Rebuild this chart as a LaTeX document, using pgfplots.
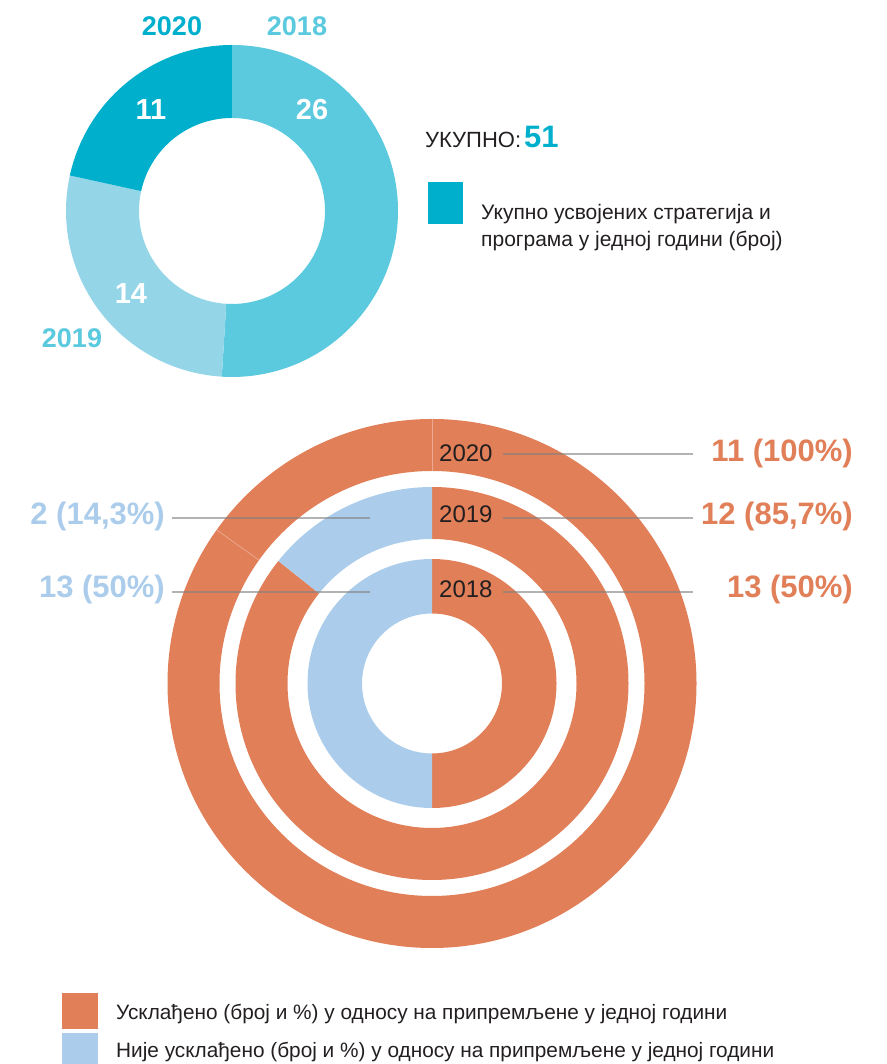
\documentclass[border=0pt]{standalone}
\usepackage{fontspec}
\setmainfont{Liberation Sans}
\usepackage{pgfplots}
\pgfplotsset{compat=1.18}
\usetikzlibrary{calc}
\definecolor{c18}{HTML}{5BC9DE}
\definecolor{c19}{HTML}{94D5E8}
\definecolor{c20}{HTML}{00AFCC}
\definecolor{orng}{HTML}{E07F58}
\definecolor{lblue}{HTML}{ABCDEB}
\definecolor{txt}{HTML}{231F20}
% ring segment: cx cy rin rout startangle endangle colour
\newcommand\seg[7]{\fill[#7] ($(axis cs:#1,#2)+(#5:#4pt)$) arc[start angle=#5,end angle=#6,radius=#4pt] -- ($(axis cs:#1,#2)+(#6:#3pt)$) arc[start angle=#6,end angle=#5,radius=#3pt] -- cycle;}
% data: adopted strategies per year
\def\tA{26}\def\tB{14}\def\tC{11}
% data: aligned / total per year
\def\alA{13}\def\toA{26}
\def\alB{12}\def\toB{14}
\def\alC{11}\def\toC{11}
\begin{document}
\begin{tikzpicture}
\pgfmathsetmacro\tT{\tA+\tB+\tC}
\pgfmathsetmacro\aA{90-\tA/\tT*360}
\pgfmathsetmacro\aB{\aA-\tB/\tT*360}
\pgfmathsetmacro\aC{\aB-\tC/\tT*360}
\pgfmathsetmacro\oA{90-\alA/\toA*360}
\pgfmathsetmacro\bA{90+(\toA-\alA)/\toA*360}
\pgfmathsetmacro\oB{90-\alB/\toB*360}
\pgfmathsetmacro\bB{90+(\toB-\alB)/\toB*360}
\pgfmathsetmacro\oC{90-\alC/\toC*360}
\begin{axis}[x=1pt,y=1pt,xmin=0,xmax=886,ymin=0,ymax=1064,hide axis,anchor=origin,at={(0pt,0pt)},clip=false]
\path (axis cs:0,0) rectangle (axis cs:886,1064);
% top donut
\seg{232}{853}{93}{166}{90}{\aA}{c18}
\seg{232}{853}{93}{166}{\aA}{\aB}{c19}
\seg{232}{853}{93}{166}{\aB}{\aC}{c20}
\node[font=\fontsize{27}{30}\selectfont\bfseries,text=c20] at (axis cs:172,1038) {2020};
\node[font=\fontsize{27}{30}\selectfont\bfseries,text=c18] at (axis cs:297,1038) {2018};
\node[font=\fontsize{27}{30}\selectfont\bfseries,text=c18] at (axis cs:72,726) {2019};
\node[font=\fontsize{29}{32}\selectfont\bfseries,text=white] at (axis cs:312,954) {26};
\node[font=\fontsize{29}{32}\selectfont\bfseries,text=white] at (axis cs:151,954) {11};
\node[font=\fontsize{29}{32}\selectfont\bfseries,text=white] at (axis cs:131,770) {14};
\node[anchor=base west,inner sep=0pt,text=txt,font=\fontsize{22}{28}\selectfont] at (axis cs:425,916) {УКУПНО:\hspace{3pt}{\fontsize{31}{40}\selectfont\bfseries\color{c20}51}};
\fill[c20] (axis cs:428,840) rectangle (axis cs:463,882);
\node[anchor=base west,inner sep=0pt,text=txt,font=\fontsize{21}{26}\selectfont] at (axis cs:481,844) {Укупно усвојених стратегија и};
\node[anchor=base west,inner sep=0pt,text=txt,font=\fontsize{21}{26}\selectfont] at (axis cs:481,817) {програма у једној години (број)};
% bottom rings
\seg{432}{380.5}{212.5}{264.5}{90}{\oC}{orng}
\seg{432}{380.5}{144.5}{196.5}{90}{\oB}{orng}
\seg{432}{380.5}{144.5}{196.5}{90}{\bB}{lblue}
\seg{432}{380.5}{70}{124.5}{90}{\oA}{orng}
\seg{432}{380.5}{70}{124.5}{90}{\bA}{lblue}
\draw[white,opacity=0.35,line width=0.7pt] ($(axis cs:432,380.5)+(90:212.5pt)$) -- ($(axis cs:432,380.5)+(90:264.5pt)$);
\draw[white,opacity=0.35,line width=0.7pt] ($(axis cs:432,380.5)+(144.5:212.5pt)$) -- ($(axis cs:432,380.5)+(144.5:264.5pt)$);
% leader lines
\draw[black!50,opacity=0.6,line width=1.6pt] (axis cs:503,610) -- (axis cs:693,610);
\draw[black!50,opacity=0.6,line width=1.6pt] (axis cs:503,546) -- (axis cs:693,546);
\draw[black!50,opacity=0.6,line width=1.6pt] (axis cs:503,472) -- (axis cs:693,472);
\draw[black!50,opacity=0.6,line width=1.6pt] (axis cs:172,546) -- (axis cs:370,546);
\draw[black!50,opacity=0.6,line width=1.6pt] (axis cs:172,472) -- (axis cs:370,472);
\node[anchor=base west,inner sep=0pt,text=txt,font=\fontsize{24}{28}\selectfont] at (axis cs:439,602) {2020};
\node[anchor=base west,inner sep=0pt,text=txt,font=\fontsize{24}{28}\selectfont] at (axis cs:439,541) {2019};
\node[anchor=base west,inner sep=0pt,text=txt,font=\fontsize{24}{28}\selectfont] at (axis cs:439,466) {2018};
\node[anchor=base east,inner sep=0pt,text=orng,font=\fontsize{31}{36}\selectfont\bfseries] at (axis cs:853,602) {11 (100\%)};
\node[anchor=base east,inner sep=0pt,text=orng,font=\fontsize{31}{36}\selectfont\bfseries] at (axis cs:853,539) {12 (85,7\%)};
\node[anchor=base east,inner sep=0pt,text=orng,font=\fontsize{31}{36}\selectfont\bfseries] at (axis cs:853,466) {13 (50\%)};
\node[anchor=base east,inner sep=0pt,text=lblue,font=\fontsize{31}{36}\selectfont\bfseries] at (axis cs:165,539) {2 (14,3\%)};
\node[anchor=base east,inner sep=0pt,text=lblue,font=\fontsize{31}{36}\selectfont\bfseries] at (axis cs:165,466) {13 (50\%)};
% bottom legend
\fill[orng] (axis cs:62,35) rectangle (axis cs:98,71);
\fill[lblue] (axis cs:62,0) rectangle (axis cs:98,31);
\node[anchor=base west,inner sep=0pt,text=txt,font=\fontsize{20.8}{26}\selectfont] at (axis cs:116,44) {Усклађено (број и \%) у односу на припремљене у једној години};
\node[anchor=base west,inner sep=0pt,text=txt,font=\fontsize{20.8}{26}\selectfont] at (axis cs:116,6) {Није усклађено (број и \%) у односу на припремљене у једној години};
\end{axis}
\end{tikzpicture}
\end{document}
